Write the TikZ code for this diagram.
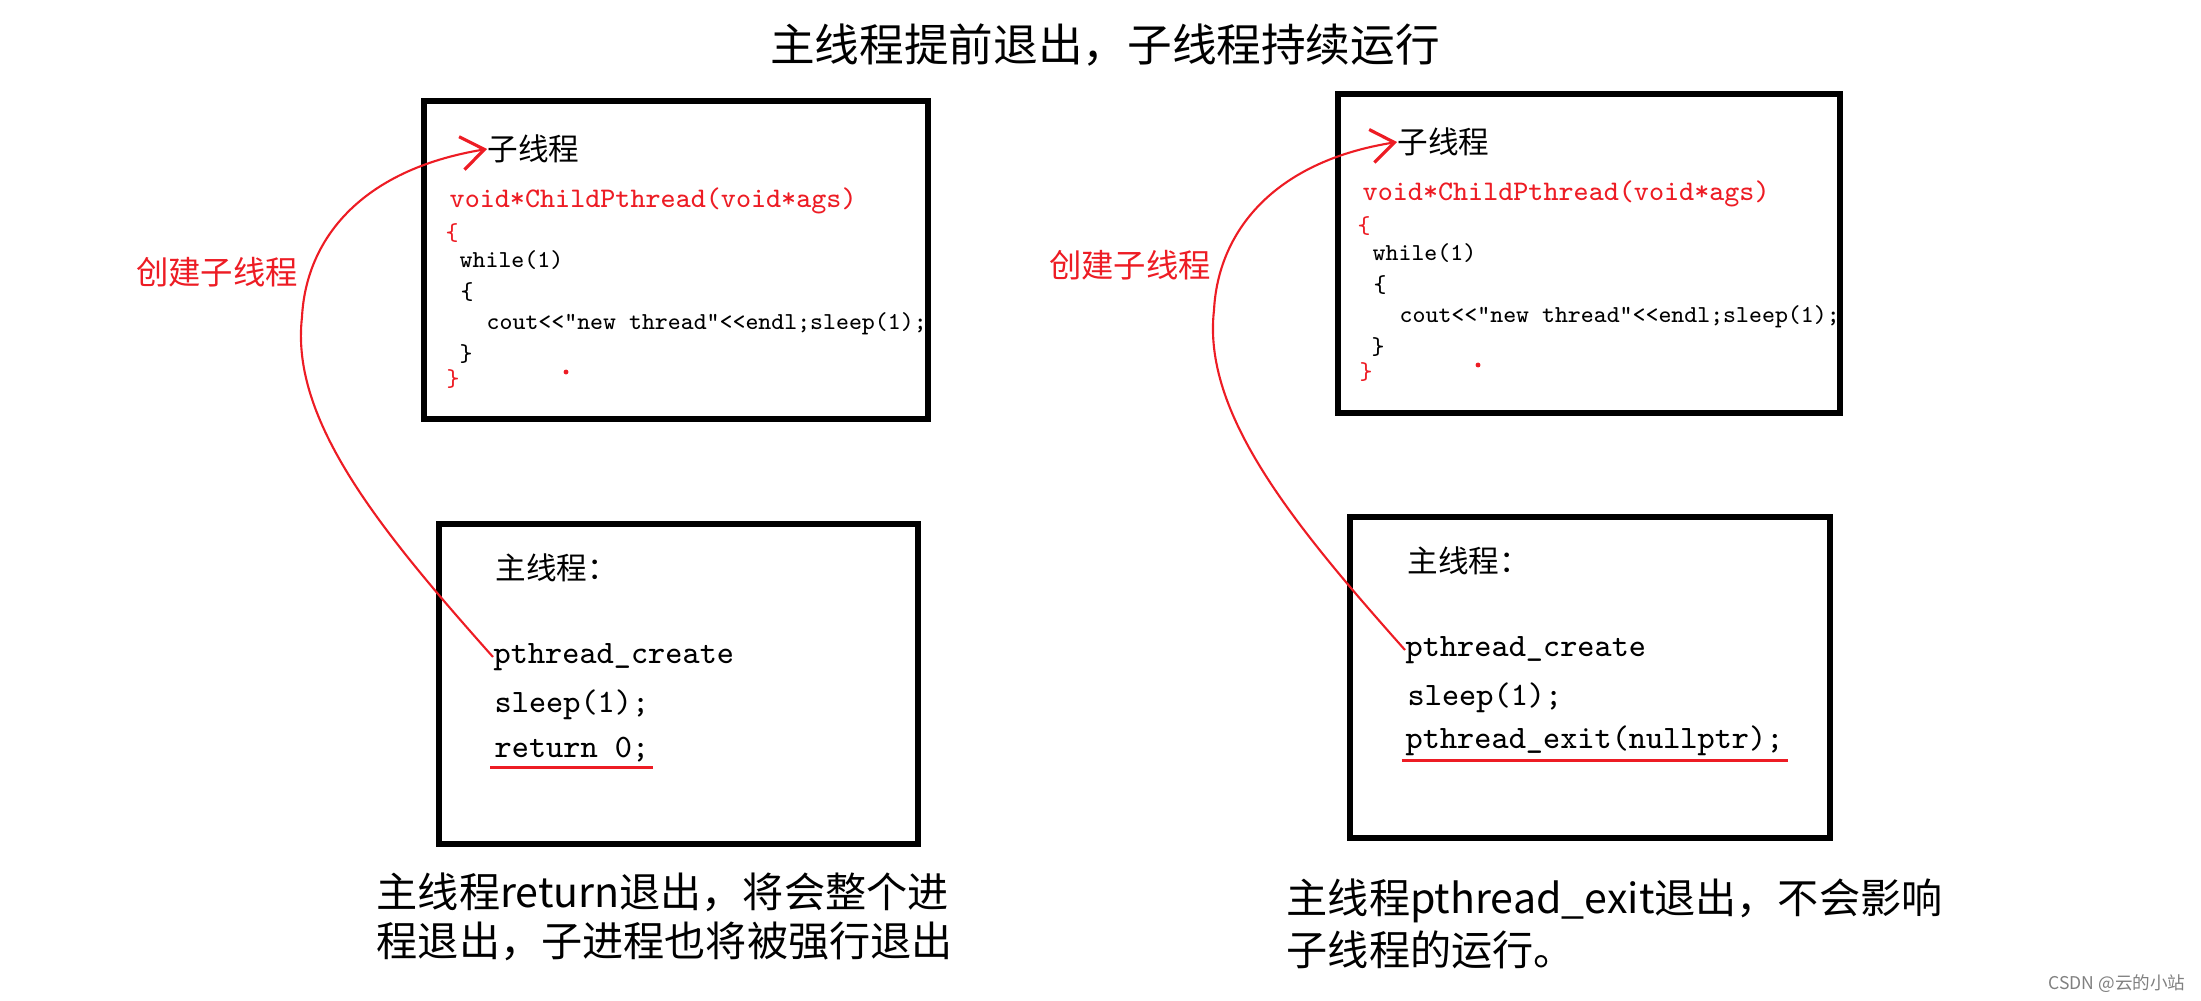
\documentclass[tikz,border=0pt]{standalone}
\usepackage{fontspec}
\newfontfamily\cjk{Noto Sans CJK SC}
\usetikzlibrary{arrows.meta}
\definecolor{paintred}{RGB}{237,28,36}

\begin{document}
\begin{tikzpicture}[x=0.01cm, y=-0.01cm,
  threadbox/.style={draw, line width=1.45pt},
  codeline/.style={anchor=west, inner sep=0pt, font=\fontsize{6.93}{8}\ttfamily},
  sigline/.style={codeline, text=paintred, font=\fontsize{8.07}{9}\ttfamily},
  mainline/.style={anchor=west, inner sep=0pt, font=\fontsize{9.3}{11}\ttfamily},
  heading/.style={anchor=west, inner sep=0pt, font=\fontsize{8.7}{10}\cjk},
  createlbl/.style={text=paintred, inner sep=0pt, font=\fontsize{9.2}{11}\cjk},
  spawn/.style={draw=paintred, line width=0.6pt,
    -{Straight Barb[length=6.5pt,width=9.5pt,line width=0.9pt]}},
  uline/.style={draw=paintred, line width=0.85pt},
  caption/.style={anchor=west, align=left, inner sep=0pt, font=\fontsize{11.7}{13.9}\cjk}]

\useasboundingbox (0,0) rectangle (2201,1000);

% Title
\node[font=\fontsize{12.7}{15}\cjk] (title) at (1105,45) {主线程提前退出，子线程持续运行};

% Left: child thread box
\draw[threadbox] (424,101) rectangle (928,419);
\node[heading] (childL) at (487,149) {子线程};
\node[sigline] (sigL) at (449,201) {void*ChildPthread(void*ags)};
\node[codeline, text=paintred] (obrL) at (445,233) {\{};
\node[codeline] (whileL) at (459,260) {while(1)};
\node[codeline] (ibrL) at (460,292) {\{};
\node[codeline] (coutL) at (486,324) {cout<<"new thread"<<endl;sleep(1);};
\node[codeline] (icbL) at (459,354) {\}};
\node[codeline, text=paintred] (cbrL) at (446,379) {\}};
\fill[paintred] (566,372) circle[radius=0.7pt];

% Left: main thread box
\draw[threadbox] (439,524) rectangle (918,844);
\node[heading] (mainL) at (495,568) {主线程：};
\node[mainline] (pcL) at (493,657) {pthread\_create};
\node[mainline] (slL) at (494,705) {sleep(1);};
\node[mainline] (retL) at (494,750) {return 0;};
\draw[uline] ([xshift=-1pt,yshift=-1.2pt]retL.south west) -- ([xshift=1pt,yshift=-1.2pt]retL.south east);

% Left: create arrow
\node[createlbl] (mkL) at (217,272) {创建子线程};
\draw[spawn] (pcL.west) .. controls (380,530) and (290,420) .. (302,317)
  .. controls (306,240) and (360,170) .. (childL.west);

\node[caption] (capL) at (376,917) {主线程return退出，将会整个进\\程退出，子进程也将被强行退出};

% Right: child thread box
\draw[threadbox] (1338,94) rectangle (1840,413);
\node[heading] (childR) at (1397,142) {子线程};
\node[sigline] (sigR) at (1362,194) {void*ChildPthread(void*ags)};
\node[codeline, text=paintred] (obrR) at (1357,226) {\{};
\node[codeline] (whileR) at (1372,253) {while(1)};
\node[codeline] (ibrR) at (1373,285) {\{};
\node[codeline] (coutR) at (1399,317) {cout<<"new thread"<<endl;sleep(1);};
\node[codeline] (icbR) at (1371,347) {\}};
\node[codeline, text=paintred] (cbrR) at (1359,372) {\}};
\fill[paintred] (1478,365) circle[radius=0.7pt];

% Right: main thread box
\draw[threadbox] (1350,517) rectangle (1830,838);
\node[heading] (mainR) at (1407,561) {主线程：};
\node[mainline] (pcR) at (1405,650) {pthread\_create};
\node[mainline] (slR) at (1407,698) {sleep(1);};
\node[mainline] (exitR) at (1405,741) {pthread\_exit(nullptr);};
\draw[uline] ([xshift=-1pt,yshift=-1.2pt]exitR.south west) -- ([xshift=1pt,yshift=-1.2pt]exitR.south east);

% Right: create arrow
\node[createlbl] (mkR) at (1130,265) {创建子线程};
\draw[spawn] (pcR.west) .. controls (1293,524) and (1202,413) .. (1214,310)
  .. controls (1218,233) and (1272,162) .. (childR.west);

\node[caption] (capR) at (1286,924) {主线程pthread\_exit退出，不会影响\\[0.9pt]子线程的运行。};

% watermark
\node[font=\fontsize{5}{6}\cjk, text=gray] (mark) at (2117,984) {CSDN @云的小站};

\end{tikzpicture}
\end{document}
